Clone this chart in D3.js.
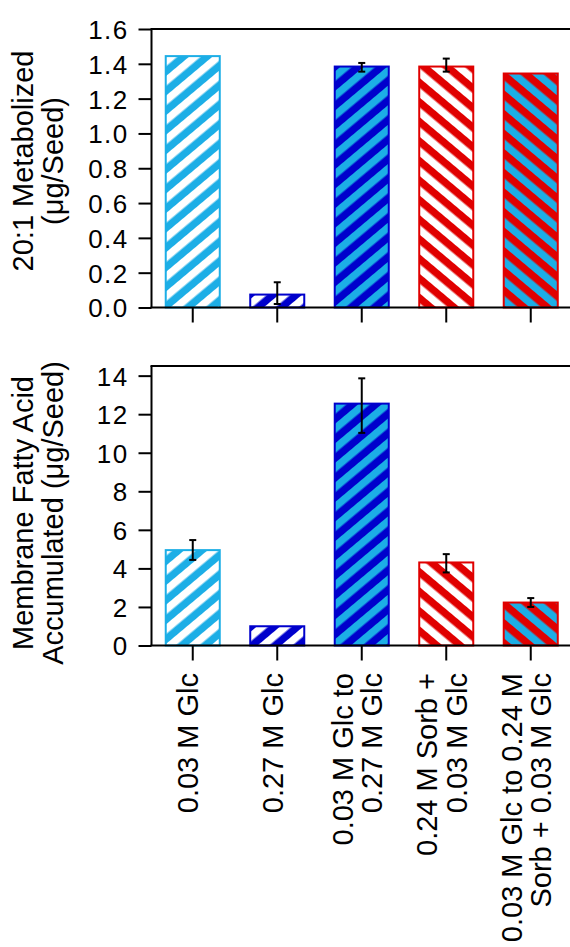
<!DOCTYPE html>
<html>
<head>
<meta charset="utf-8">
<script src="https://cdn.jsdelivr.net/npm/d3@7"></script>
<style>
  html, body { margin: 0; padding: 0; background: #fff; }
  svg { display: block; }
  text { font-family: "Liberation Sans", Arial, sans-serif; fill: #000; }
</style>
</head>
<body>
<svg id="chart" width="570" height="947"></svg>
<script>
// Treatment groups (each label may wrap onto two lines)
const categories = [
  ["0.03 M Glc"],
  ["0.27 M Glc"],
  ["0.03 M Glc to", "0.27 M Glc"],
  ["0.24 M Sorb +", "0.03 M Glc"],
  ["0.03 M Glc to 0.24 M", "Sorb + 0.03 M Glc"]
];

// Panel A: 20:1 metabolized (µg/seed)
const metabolized         = [1.45, 0.08, 1.39, 1.39, 1.35];
const metabolizedErrUp    = [0, 0.065, 0.015, 0.04, 0];
const metabolizedErrDown  = [0, 0.06, 0.035, 0.035, 0];
const metabolizedTicks    = [0, 0.2, 0.4, 0.6, 0.8, 1.0, 1.2, 1.4, 1.6];

// Panel B: membrane fatty acid accumulated (µg/seed)
const membrane            = [5.0, 1.05, 12.6, 4.36, 2.28];
const membraneErrUp       = [0.47, 0, 1.26, 0.38, 0.18];
const membraneErrDown     = [0.56, 0, 1.57, 0.57, 0.28];
const membraneTicks       = [0, 2, 4, 6, 8, 10, 12, 14];

// Hatch styles per treatment: base colour, stripe colour, stripe direction
const LIGHT = "#1caee6", DARK = "#0000cc", RED = "#e00000", WHITE = "#ffffff";
const hatch = [
  { base: LIGHT, stripe: WHITE, dir: 1 },
  { base: DARK,  stripe: WHITE, dir: 1 },
  { base: DARK,  stripe: LIGHT, dir: 1 },
  { base: RED,   stripe: WHITE, dir: -1 },
  { base: RED,   stripe: LIGHT, dir: -1 }
];

const svg = d3.select("#chart");
const defs = svg.append("defs");
const period = 15;
hatch.forEach((h, i) => {
  const p = defs.append("pattern")
    .attr("id", "hatch" + i)
    .attr("patternUnits", "userSpaceOnUse")
    .attr("width", period).attr("height", period)
    .attr("patternTransform", `rotate(${h.dir * 50})`);
  p.append("rect").attr("width", period).attr("height", period).attr("fill", h.base);
  p.append("rect").attr("width", period / 2).attr("height", period).attr("fill", h.stripe);
});

const axisX = 151.5, rightEdge = 572;
const x = d3.scaleBand()
  .domain(d3.range(categories.length))
  .range([150.5, 573])
  .paddingInner(0.337)
  .paddingOuter(0.1685);

function panel(cfg) {
  const y = d3.scaleLinear().domain(cfg.domain).range([cfg.bottom, cfg.top]);
  const g = svg.append("g");

  // bars
  g.selectAll("rect.bar").data(cfg.values).join("rect")
    .attr("class", "bar")
    .attr("x", (d, i) => x(i) + 1)
    .attr("width", x.bandwidth() - 2)
    .attr("y", d => y(d) + 1)
    .attr("height", d => y(0) - y(d) - 1)
    .attr("fill", (d, i) => `url(#hatch${i})`)
    .attr("stroke", (d, i) => hatch[i].base)
    .attr("stroke-width", 2);

  // error bars
  const cap = 3.5;
  cfg.values.forEach((v, i) => {
    const up = cfg.errUp[i], down = cfg.errDown[i];
    if (!up && !down) return;
    const cx = x(i) + x.bandwidth() / 2;
    const y1 = y(v + up), y2 = y(v - down);
    g.append("line").attr("x1", cx).attr("x2", cx).attr("y1", y1).attr("y2", y2)
      .attr("stroke", "#000").attr("stroke-width", 2);
    [y1, y2].forEach(yy => g.append("line")
      .attr("x1", cx - cap).attr("x2", cx + cap).attr("y1", yy).attr("y2", yy)
      .attr("stroke", "#000").attr("stroke-width", 2));
  });

  // y axis
  const ya = g.append("g").attr("transform", `translate(${axisX},0)`)
    .call(d3.axisLeft(y).tickValues(cfg.ticks).tickFormat(cfg.format)
      .tickSize(13).tickSizeOuter(0).tickPadding(10));
  ya.select(".domain").attr("d", `M0,${cfg.top}V${cfg.bottom}`);
  ya.selectAll("path, line").attr("stroke", "#000").attr("stroke-width", 2);
  ya.selectAll("text").attr("font-size", 26).attr("letter-spacing", "1.4px")
    .attr("dy", "0.36em").attr("font-family", "Liberation Sans, Arial, sans-serif");

  // frame top line
  g.append("line").attr("x1", axisX - 1).attr("x2", rightEdge)
    .attr("y1", cfg.top).attr("y2", cfg.top)
    .attr("stroke", "#000").attr("stroke-width", 2);

  // x axis
  const xa = g.append("g").attr("transform", `translate(0,${cfg.bottom})`)
    .call(d3.axisBottom(x).tickSize(15).tickSizeOuter(0).tickFormat(""));
  xa.select(".domain").attr("d", `M${axisX - 1},0H${rightEdge}`);
  xa.selectAll("path, line").attr("stroke", "#000").attr("stroke-width", 2);

  // y title
  const t = g.append("text")
    .attr("transform", `translate(0,${cfg.titleY}) rotate(-90)`)
    .attr("text-anchor", "middle").attr("font-size", 29);
  cfg.title.forEach((line, k) => t.append("tspan")
    .attr("x", 0).attr("y", 33 + k * 30).text(line));

  return y;
}

panel({
  values: metabolized, errUp: metabolizedErrUp, errDown: metabolizedErrDown,
  domain: [0, 1.6], top: 29, bottom: 307.5, ticks: metabolizedTicks,
  format: d3.format(".1f"), title: ["20:1 Metabolized", "(\u03bcg/Seed)"], titleY: 161
});

panel({
  values: membrane, errUp: membraneErrUp, errDown: membraneErrDown,
  domain: [0, 14.5], top: 366, bottom: 645.5, ticks: membraneTicks,
  format: d3.format("d"), title: ["Membrane Fatty Acid", "Accumulated (\u03bcg/Seed)"], titleY: 513
});

// category labels under the lower panel
const labels = svg.append("g");
categories.forEach((lines, i) => {
  const cx = x(i) + x.bandwidth() / 2;
  lines.forEach((line, k) => {
    const bx = cx + 5.5 + (k - (lines.length - 1) / 2) * 29.5;
    labels.append("text")
      .attr("transform", `translate(${bx},673) rotate(-90)`)
      .attr("text-anchor", "end").attr("font-size", 29)
      .text(line);
  });
});
</script>
</body>
</html>
